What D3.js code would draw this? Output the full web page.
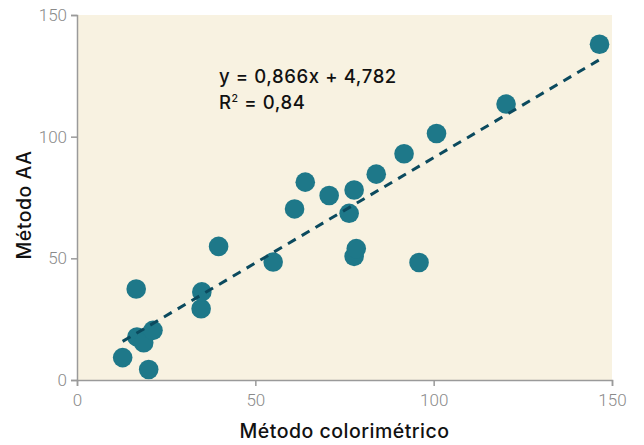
<!DOCTYPE html>
<html>
<head>
<meta charset="utf-8">
<script src="https://cdn.jsdelivr.net/npm/d3@7"></script>
<style>
  body { margin: 0; background: #fff; }
  .tick text { font-family: Roboto, "Liberation Sans", sans-serif; font-weight: 300; }
</style>
</head>
<body>
<div id="chart"></div>
<script>
// Método colorimétrico (x) vs Método AA (y)
const colorimetrico = [12.8, 20.1, 16.8, 18.7, 21.3, 16.6, 34.8, 35.0, 39.7, 55.0, 61.0, 64.0, 70.7, 76.3, 77.7, 77.7, 78.3, 83.9, 91.7, 95.9, 100.8, 120.3, 146.5];
const metodoAA     = [9.2, 4.3, 17.7, 15.3, 20.4, 37.4, 29.3, 36.2, 54.9, 48.5, 70.3, 81.3, 75.8, 68.5, 78.1, 50.8, 54.0, 84.6, 93.0, 48.3, 101.3, 113.4, 138.0];
const axisTicks = [0, 50, 100, 150];
const slope = 0.866;
const intercept = 4.782;

const width = 644, height = 445;
const margin = {top: 15, right: 32, bottom: 65, left: 77};
const labelFont = "Inter, 'Liberation Sans', sans-serif";

const svg = d3.select("#chart").append("svg")
    .attr("width", width)
    .attr("height", height);

const x = d3.scaleLinear().domain([0, 150]).range([margin.left, width - margin.right]);
const y = d3.scaleLinear().domain([0, 150]).range([height - margin.bottom, margin.top]);

// plot background
svg.append("rect")
    .attr("x", x(0))
    .attr("y", y(150))
    .attr("width", x(150) - x(0))
    .attr("height", y(0) - y(150))
    .attr("fill", "#f8f2e1");

const xAxis = svg.append("g")
    .attr("transform", `translate(0,${y(0)})`)
    .call(d3.axisBottom(x).tickValues(axisTicks).tickSize(6).tickPadding(8));

const yAxis = svg.append("g")
    .attr("transform", `translate(${x(0)},0)`)
    .call(d3.axisLeft(y).tickValues(axisTicks).tickSize(6).tickPadding(4));

[xAxis, yAxis].forEach(g => {
    g.select(".domain").attr("stroke", "#9a9a9a").attr("stroke-width", 1.5);
    g.selectAll(".tick line").attr("stroke", "#9a9a9a").attr("stroke-width", 1.5);
    g.selectAll(".tick text").attr("fill", "#8a8a8a").attr("font-size", 17);
});

// points
svg.append("g").selectAll("circle")
    .data(colorimetrico.map((d, i) => ({x: d, y: metodoAA[i]})))
    .enter().append("circle")
    .attr("cx", d => x(d.x))
    .attr("cy", d => y(d.y))
    .attr("r", 9.8)
    .attr("fill", "#1e7889");

// trend line over data range
const xMin = d3.min(colorimetrico), xMax = d3.max(colorimetrico);
svg.append("line")
    .attr("x1", x(xMin))
    .attr("y1", y(slope * xMin + intercept))
    .attr("x2", x(xMax))
    .attr("y2", y(slope * xMax + intercept))
    .attr("stroke", "#0b4a5e")
    .attr("stroke-width", 3)
    .attr("stroke-dasharray", "9,7");

// equation
const eq = svg.append("g")
    .attr("font-family", labelFont)
    .attr("font-weight", 500)
    .attr("font-size", 18.5)
    .attr("letter-spacing", 0.6)
    .attr("fill", "#111");
eq.append("text").attr("x", 219).attr("y", 83).text("y = 0,866x + 4,782");
const r2 = eq.append("text").attr("x", 219).attr("y", 109);
r2.append("tspan").text("R");
r2.append("tspan").attr("font-size", 10.5).attr("dy", -7).text("2");
r2.append("tspan").attr("dy", 7).text(" = 0,84");

// axis titles
svg.append("text")
    .attr("x", (x(0) + x(150)) / 2)
    .attr("y", 438)
    .attr("text-anchor", "middle")
    .attr("font-family", labelFont)
    .attr("font-weight", 500)
    .attr("font-size", 19.5)
    .attr("letter-spacing", 0.5)
    .attr("fill", "#111")
    .text("Método colorimétrico");

svg.append("text")
    .attr("transform", "translate(31,205) rotate(-90)")
    .attr("text-anchor", "middle")
    .attr("font-family", labelFont)
    .attr("font-weight", 500)
    .attr("font-size", 19.5)
    .attr("letter-spacing", 0.5)
    .attr("fill", "#111")
    .text("Método AA");
</script>
</body>
</html>
